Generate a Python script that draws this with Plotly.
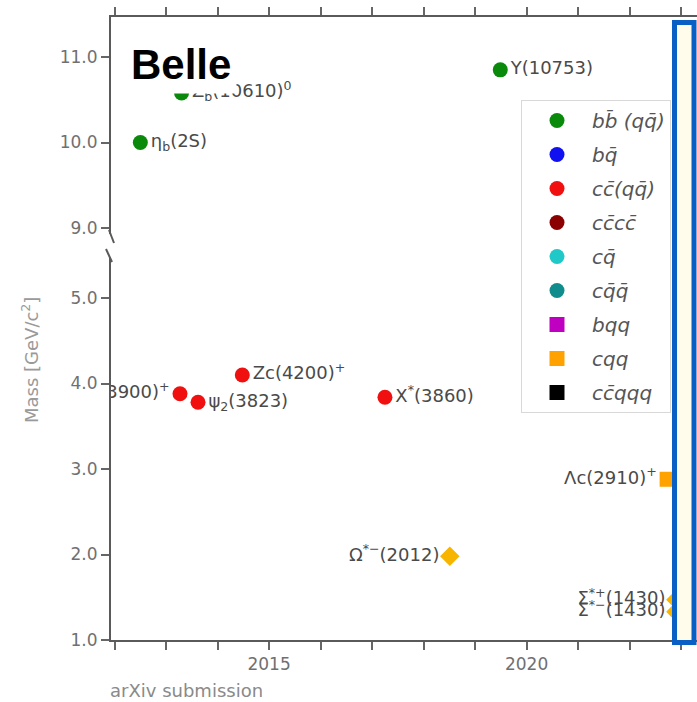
import plotly.graph_objects as go

# ---------------- data ----------------
# upper (bottomonium-like) states
bb_years = [2012.5, 2013.3, 2019.49]
bb_mass = [10.0, 10.58, 10.85]
bb_labels = ["η<sub>b</sub>(2S)", "Z<sub>b</sub>(10610)<sup>0</sup>", "Υ(10753)"]

# charmonium-like states
cc_years = [2013.27, 2013.62, 2014.48, 2017.25]
cc_mass = [3.88, 3.78, 4.10, 3.84]
cc_labels = ["Zc(3900)<sup>+</sup>", "ψ<sub>2</sub>(3823)", "Zc(4200)<sup>+</sup>", "X<sup>*</sup>(3860)"]
cc_textpos = ["middle left", "middle right", "middle right", "middle right"]

# charm baryon
cqq_years = [2022.73]
cqq_mass = [2.88]
cqq_labels = ["Λc(2910)<sup>+</sup>"]

# light/strange baryons (diamonds)
bar_years = [2018.51, 2022.9, 2022.9]
bar_mass = [1.98, 1.47, 1.33]
bar_labels = ["Ω<sup>*−</sup>(2012)", "Σ<sup>*+</sup>(1430)", "Σ<sup>*−</sup>(1430)"]

legend_names = ["b\u0062\u0304 (q\u0071\u0304)", "b\u0071\u0304", "c\u0063\u0304(q\u0071\u0304)",
                "c\u0063\u0304c\u0063\u0304", "c\u0071\u0304", "c\u0071\u0304\u0071\u0304",
                "bqq", "cqq", "c\u0063\u0304qqq"]
legend_colors = ["#0a8a0a", "#1010f0", "#f01010", "#8b0000", "#20c8c8", "#108c8c",
                 "#c000c0", "#ffa200", "#000000"]
legend_symbols = ["circle"] * 6 + ["square"] * 3

year_ticks = list(range(2012, 2024))
year_ticktext = [str(y) if y in (2015, 2020) else "" for y in year_ticks]

# ---------------- figure ----------------
W, H = 697, 702
ML, MR, MT, MB = 111, 0, 17, 62
PW, PH = W - ML - MR, H - MT - MB


def px(xp):
    return (xp - ML) / PW


def py(yp):
    return (H - MB - yp) / PH


label_font = dict(family="DejaVu Sans", size=18, color="#4a4a4a")
fig = go.Figure()

for i, name in enumerate(legend_names):
    common = dict(name=f"<i>{name}</i>", legendgroup=f"g{i}",
                  marker=dict(color=legend_colors[i], size=15, symbol=legend_symbols[i]),
                  showlegend=True, hoverinfo="skip")
    if i == 0:
        fig.add_trace(go.Scatter(x=bb_years, y=bb_mass, text=bb_labels, mode="markers+text",
                                 textposition="middle right", textfont=label_font,
                                 xaxis="x2", yaxis="y2", **common))
    elif i == 2:
        fig.add_trace(go.Scatter(x=cc_years, y=cc_mass, text=cc_labels, mode="markers+text",
                                 textposition=cc_textpos, textfont=label_font, **common))
    elif i == 7:
        fig.add_trace(go.Scatter(x=cqq_years, y=cqq_mass, text=cqq_labels, mode="markers+text",
                                 textposition="middle left", textfont=label_font, **common))
    else:
        fig.add_trace(go.Scatter(x=[None], y=[None], mode="markers", **common))

fig.add_trace(go.Scatter(x=bar_years, y=bar_mass, text=bar_labels, mode="markers+text",
                         textposition="middle left", textfont=label_font,
                         marker=dict(color="#f7b500", size=15, symbol="diamond"),
                         showlegend=False, hoverinfo="skip"))

axis_common = dict(showline=True, linecolor="#5a5a5a", linewidth=2, ticks="outside",
                   ticklen=8, tickwidth=1.5, tickcolor="#666", showgrid=False, zeroline=False,
                   tickfont=dict(family="DejaVu Sans", size=17, color="#707070"))

y_lo_top, y_hi_bot = 258, 234
fig.update_layout(
    width=W, height=H,
    margin=dict(l=ML, r=MR, t=MT, b=MB),
    paper_bgcolor="white", plot_bgcolor="white",
    xaxis=dict(domain=[0, 1], range=[2011.93, 2023.31], anchor="y",
               tickvals=year_ticks, ticktext=year_ticktext, **axis_common),
    xaxis2=dict(domain=[0, 1], matches="x", anchor="y2", side="top",
                tickvals=year_ticks, showticklabels=False, **axis_common),
    yaxis=dict(domain=[0, py(y_lo_top)], range=[1.0, 5.0 + (298 - y_lo_top) / 85.5],
               dtick=1, tick0=1, tickformat=".1f", anchor="x", **axis_common),
    yaxis2=dict(domain=[py(y_hi_bot), 1], range=[9.0 - (y_hi_bot - 228) / 85.5, 11.0 + 40 / 85.5],
                dtick=1, tick0=9, tickformat=".1f", anchor="x2", **axis_common),
    legend=dict(x=px(671), xanchor="right", y=py(100), yanchor="top",
                bgcolor="white", bordercolor="#d8d8d8", borderwidth=1,
                font=dict(family="DejaVu Sans", size=20, color="#555"),
                itemsizing="trace", tracegroupgap=5, itemwidth=60),
    showlegend=True,
)

# break marks on the left spine
for (x0, y0, x1, y1) in [(109, 230, 114, 243), (106, 249, 112, 262)]:
    fig.add_shape(type="line", xref="paper", yref="paper", x0=px(x0), y0=py(y0), x1=px(x1), y1=py(y1),
                  line=dict(color="#5a5a5a", width=2))

# blue highlight box on the right
fig.add_shape(type="rect", xref="paper", yref="paper", layer="above",
              x0=px(674.5), x1=px(694), y0=py(642.5), y1=py(22.5),
              line=dict(color="#0a5fc4", width=5), fillcolor="#fffcec")

annotations = [
    dict(text="<b>Belle</b>", xref="paper", yref="paper", x=px(125), y=py(65),
         xanchor="left", yanchor="middle", showarrow=False, bgcolor="white", borderpad=5,
         font=dict(family="Liberation Sans", size=42, color="black")),
    dict(text="Mass [GeV/c<sup>2</sup>]", xref="paper", yref="paper", x=px(30), y=py(360),
         xanchor="center", yanchor="middle",
         textangle=-90, showarrow=False, font=dict(family="DejaVu Sans", size=18, color="#9a9a9a")),
    dict(text="arXiv submission", xref="paper", yref="paper", x=px(108), y=py(690),
         xanchor="left", yanchor="middle", showarrow=False,
         font=dict(family="DejaVu Sans", size=18, color="#8a8a8a")),
]
fig.update_layout(annotations=annotations)

fig.write_html("out.html", config={"displayModeBar": False},
               post_script="document.body.style.margin='0';")
